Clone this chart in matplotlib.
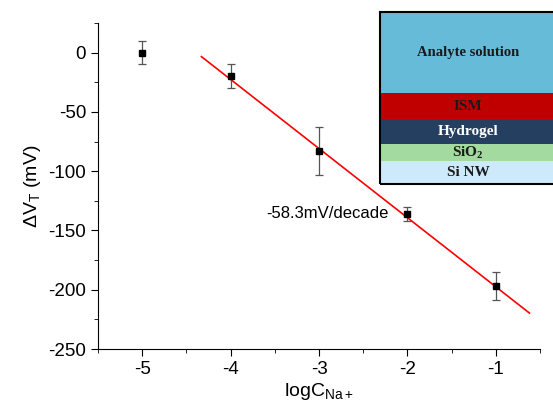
import numpy as np
import matplotlib
matplotlib.use("Agg")
import matplotlib.pyplot as plt
from matplotlib.ticker import MultipleLocator

plt.rcParams['font.family'] = ['Liberation Sans', 'DejaVu Sans']
plt.rcParams['mathtext.default'] = 'regular'
plt.rcParams['axes.unicode_minus'] = False

# measured threshold shift vs Na+ concentration
logc = [-5, -4, -3, -2, -1]
dvt = [0, -20, -83, -136, -197]
err = [10, 10, 20, 6, 12]

# linear fit
slope = -58.3
intercept = -255.8
fit_x = np.array([-4.33, -0.62])

# inset layer stack (top to bottom)
layers = ['Analyte solution', 'ISM', 'Hydrogel', 'SiO$_2$', 'Si NW']
layer_h = [81, 26, 25, 17, 23]
layer_col = ['#66bbd9', '#c00000', '#243f60', '#a3daa0', '#cdeafa']
layer_txt = ['#1a1a1a', '#1a1a1a', 'white', '#1a1a1a', '#1a1a1a']

fig = plt.figure(figsize=(5.53, 4.08), dpi=100)
ax = fig.add_axes([98/553, 1-349/408, 442/553, 326/408])

ax.plot(fit_x, intercept + slope*fit_x, color='red', lw=1.2, zorder=1)
ax.errorbar(logc, dvt, yerr=err, fmt='s', color='black', ms=5,
            ecolor='#555555', elinewidth=0.9, capsize=3, capthick=0.9, zorder=3)

ax.text(-3.6, -136, '-58.3mV/decade', fontsize=12, va='center')

ax.set_xlim(-5.5, -0.5)
ax.set_ylim(-250, 25)
ax.xaxis.set_major_locator(MultipleLocator(1))
ax.xaxis.set_minor_locator(MultipleLocator(0.5))
ax.yaxis.set_major_locator(MultipleLocator(50))
ax.yaxis.set_minor_locator(MultipleLocator(25))
ax.spines['top'].set_visible(False)
ax.spines['right'].set_visible(False)
ax.tick_params(which='major', length=5, labelsize=13.5)
ax.tick_params(which='minor', length=3)
ax.set_xlabel('logC$_{Na+}$', fontsize=14, labelpad=2)
ax.set_ylabel('$\\Delta V_T$ (mV)', fontsize=14, labelpad=4)

# inset drawn in figure pixel space
top = 12
left = 380
width = 180
for name, h, c, tc in zip(layers, layer_h, layer_col, layer_txt):
    y0 = 408 - top - h
    fig.patches.append(plt.Rectangle((left/553, y0/408), width/553, h/408,
                                     transform=fig.transFigure, facecolor=c,
                                     edgecolor='none', zorder=5))
    fig.text((left + 88)/553, (y0 + h/2)/408, name, ha='center', va='center',
             fontsize=11 if name != 'Analyte solution' else 10.5,
             family='Liberation Serif', weight='bold', color=tc, zorder=6)
    top += h
fig.patches.append(plt.Rectangle((left/553, (408-top)/408), width/553, (top-12)/408,
                                 transform=fig.transFigure, facecolor='none',
                                 edgecolor='black', lw=1.5, zorder=7))

fig.savefig('out.png', dpi=100)
